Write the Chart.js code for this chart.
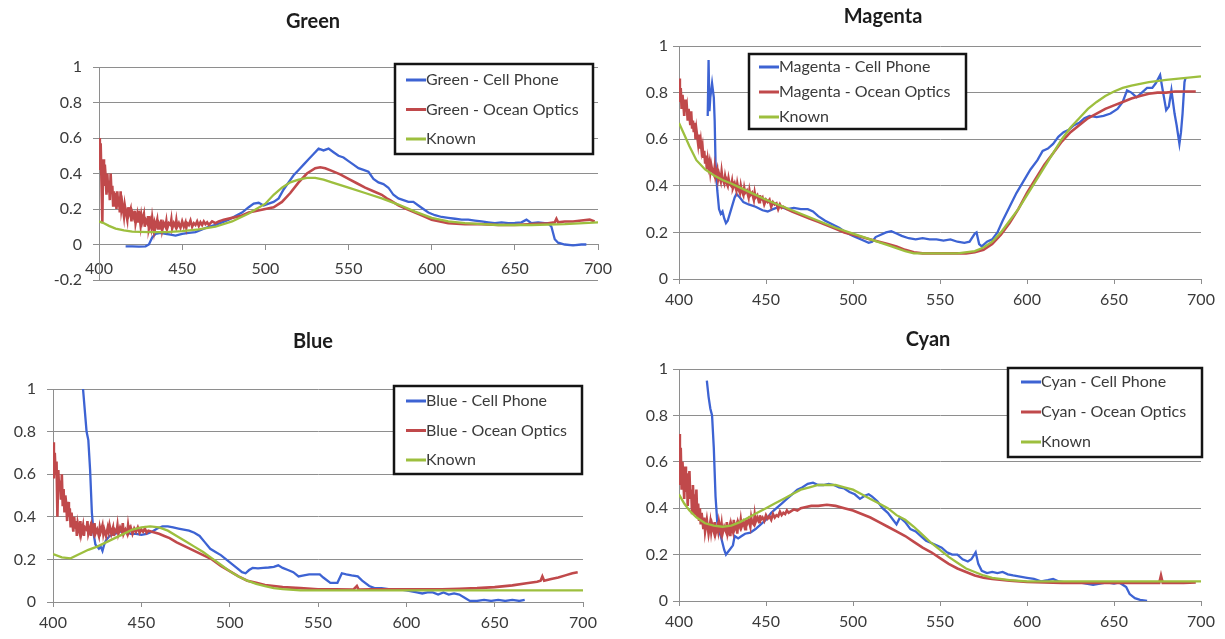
<!DOCTYPE html>
<html>
<head>
<meta charset="utf-8">
<title>Spectra</title>
<script src="https://cdn.jsdelivr.net/npm/chart.js@4.4.1/dist/chart.umd.min.js"></script>
<style>
	html, body { margin: 0; padding: 0; background: #fff; }
	#page { position: relative; width: 1225px; height: 639px; overflow: hidden; }
	#page canvas { position: absolute; left: 0; top: 0; }
</style>
</head>
<body>
<div id="page">
	<canvas id="green" width="1225" height="639"></canvas>
	<canvas id="magenta" width="1225" height="639"></canvas>
	<canvas id="blue" width="1225" height="639"></canvas>
	<canvas id="cyan" width="1225" height="639"></canvas>
</div>
<script>
// wavelength (nm) / relative transmission pairs

var xTicks = [400, 450, 500, 550, 600, 650, 700];

var greenPhone = [[416,-0.01],[420,-0.01],[424,-0.012],[428,-0.01],[430,0.0],[432,0.04],[434,0.06],[437,0.065],[440,0.06],[443,0.055],[446,0.05],[450,0.06],[454,0.065],[458,0.07],[462,0.085],[466,0.1],[470,0.11],[474,0.125],[478,0.14],[482,0.16],[486,0.18],[490,0.21],[493,0.23],[496,0.235],[499,0.22],[502,0.23],[505,0.24],[508,0.26],[511,0.31],[514,0.35],[517,0.39],[520,0.42],[523,0.45],[526,0.48],[529,0.51],[532,0.54],[535,0.53],[538,0.54],[541,0.52],[544,0.5],[547,0.49],[550,0.47],[553,0.45],[556,0.43],[559,0.42],[562,0.41],[565,0.37],[568,0.35],[571,0.34],[574,0.32],[577,0.28],[580,0.26],[583,0.25],[586,0.24],[589,0.24],[592,0.22],[595,0.2],[598,0.18],[602,0.165],[606,0.155],[610,0.15],[614,0.145],[618,0.14],[622,0.14],[626,0.135],[630,0.13],[634,0.125],[638,0.12],[642,0.125],[646,0.12],[650,0.122],[654,0.125],[657,0.14],[660,0.12],[664,0.125],[668,0.12],[670,0.12],[672,0.1],[674,0.03],[676,0.01],[680,0.0],[685,-0.005],[690,0.0],[693,0.0]];

var greenOcean = [[400,0.6],[400.5,0.42],[401,0.57],[401.5,0.35],[402,0.12],[402.5,0.48],[403,0.33],[403.5,0.45],[404,0.38],[404.5,0.28],[405,0.4],[405.5,0.3],[406,0.36],[406.5,0.25],[407,0.4],[407.5,0.29],[408,0.33],[408.5,0.22],[409,0.3],[409.5,0.24],[410,0.29],[410.5,0.2],[411,0.3],[411.5,0.22],[412,0.27],[412.5,0.18],[413,0.3],[413.5,0.2],[414,0.23],[415,0.16],[415.5,0.22],[416,0.19],[417,0.14],[417.5,0.21],[418,0.17],[419,0.2],[419.5,0.13],[420,0.18],[421,0.15],[421.5,0.19],[422,0.12],[423,0.17],[423.5,0.13],[424,0.19],[425,0.11],[425.5,0.16],[426,0.13],[427,0.17],[427.5,0.1],[428,0.14],[429,0.12],[429.5,0.16],[430,0.09],[431,0.13],[431.5,0.1],[432,0.15],[433,0.08],[433.5,0.12],[434,0.1],[435,0.14],[435.5,0.09],[436,0.12],[437,0.1],[437.5,0.14],[438,0.08],[439,0.12],[440,0.1],[440.5,0.13],[441,0.09],[442,0.12],[443,0.11],[443.5,0.14],[444,0.09],[445,0.12],[446,0.1],[446.5,0.135],[447,0.1],[448,0.12],[449,0.095],[450,0.13],[451,0.1],[452,0.125],[452.5,0.095],[453,0.12],[454,0.11],[455,0.135],[456,0.1],[457,0.12],[458,0.11],[459,0.13],[460,0.105],[461,0.125],[462,0.11],[463,0.13],[464,0.115],[465,0.125],[466,0.11],[468,0.13],[470,0.12],[472,0.13],[475,0.14],[480,0.15],[485,0.16],[490,0.18],[495,0.19],[500,0.2],[505,0.21],[510,0.24],[515,0.29],[520,0.35],[525,0.4],[530,0.43],[533,0.435],[536,0.43],[540,0.415],[545,0.395],[550,0.37],[555,0.345],[560,0.32],[565,0.3],[570,0.28],[573,0.26],[575,0.25],[580,0.22],[585,0.2],[590,0.18],[595,0.16],[600,0.14],[605,0.13],[610,0.12],[620,0.115],[630,0.115],[640,0.11],[650,0.11],[660,0.115],[670,0.12],[674,0.125],[675,0.145],[676,0.125],[680,0.13],[685,0.13],[690,0.135],[695,0.14],[698,0.13]];

var greenKnown = [[400,0.13],[403,0.12],[406,0.105],[410,0.09],[415,0.08],[420,0.072],[430,0.07],[440,0.07],[450,0.075],[460,0.085],[470,0.1],[480,0.13],[490,0.175],[500,0.23],[505,0.28],[510,0.32],[515,0.35],[520,0.365],[525,0.375],[530,0.375],[535,0.365],[540,0.35],[550,0.32],[560,0.29],[570,0.26],[580,0.225],[590,0.185],[600,0.15],[610,0.13],[620,0.12],[630,0.115],[640,0.11],[660,0.11],[680,0.115],[700,0.125]];

var magentaPhone = [[416.5,0.7],[417,0.94],[417.5,0.72],[418,0.78],[419,0.84],[420,0.78],[420.5,0.68],[421,0.5],[422,0.38],[423,0.3],[424,0.28],[425,0.29],[426,0.26],[427,0.24],[428,0.25],[430,0.3],[432,0.35],[433,0.365],[435,0.35],[437,0.33],[440,0.32],[444,0.31],[448,0.295],[451,0.29],[454,0.3],[458,0.31],[462,0.3],[466,0.305],[470,0.3],[474,0.3],[477,0.29],[480,0.27],[484,0.25],[488,0.235],[492,0.22],[496,0.2],[500,0.185],[503,0.175],[506,0.165],[509,0.155],[511,0.16],[513,0.18],[516,0.19],[519,0.2],[522,0.205],[525,0.195],[528,0.185],[532,0.175],[536,0.17],[540,0.175],[544,0.17],[548,0.17],[552,0.165],[556,0.17],[560,0.16],[564,0.155],[567,0.16],[570,0.195],[571,0.2],[572.5,0.15],[574,0.14],[577,0.16],[580,0.17],[583,0.2],[586,0.25],[590,0.31],[594,0.37],[598,0.42],[602,0.47],[606,0.51],[609,0.55],[612,0.56],[615,0.58],[618,0.61],[621,0.63],[624,0.64],[627,0.66],[630,0.67],[633,0.69],[636,0.7],[640,0.695],[644,0.7],[648,0.71],[652,0.73],[655,0.76],[657.5,0.81],[660,0.8],[663,0.78],[666,0.8],[669,0.82],[672,0.82],[674,0.84],[676.5,0.875],[678,0.81],[680,0.725],[681.5,0.74],[683,0.81],[684.8,0.71],[686,0.66],[687.6,0.58],[688.5,0.63],[689.4,0.71],[690.5,0.845],[691,0.86]];

var magentaOcean = [[400,0.86],[400.5,0.76],[401,0.82],[401.5,0.73],[402,0.79],[402.5,0.75],[403,0.7],[403.5,0.77],[404,0.72],[404.5,0.74],[405,0.68],[405.5,0.73],[406,0.7],[406.5,0.66],[407,0.72],[407.5,0.65],[408,0.68],[408.5,0.63],[409,0.67],[409.5,0.6],[410,0.64],[410.5,0.61],[411,0.58],[411.5,0.62],[412,0.56],[412.5,0.59],[413,0.55],[413.5,0.57],[414,0.52],[414.5,0.55],[415,0.5],[415.5,0.53],[416,0.47],[416.5,0.51],[417,0.48],[417.5,0.5],[418,0.46],[418.5,0.49],[419,0.47],[420,0.45],[420.5,0.48],[421,0.44],[422,0.47],[422.5,0.43],[423,0.45],[424,0.42],[424.5,0.46],[425,0.43],[426,0.41],[426.5,0.44],[427,0.42],[428,0.4],[428.5,0.43],[429,0.41],[430,0.4],[430.5,0.42],[431,0.39],[432,0.41],[433,0.38],[433.5,0.41],[434,0.39],[435,0.37],[435.5,0.4],[436,0.38],[437,0.36],[437.5,0.39],[438,0.37],[439,0.38],[440,0.35],[440.5,0.38],[441,0.36],[442,0.37],[443,0.34],[443.5,0.37],[444,0.35],[445,0.36],[446,0.33],[446.5,0.36],[447,0.34],[448,0.35],[449,0.32],[450,0.34],[451,0.33],[452,0.34],[453,0.31],[454,0.33],[455,0.32],[456,0.325],[457,0.3],[458,0.32],[459,0.305],[460,0.31],[462,0.3],[465,0.29],[470,0.275],[475,0.26],[480,0.245],[485,0.23],[490,0.215],[495,0.2],[500,0.19],[505,0.18],[510,0.17],[515,0.16],[520,0.15],[525,0.14],[530,0.125],[535,0.115],[540,0.11],[550,0.11],[560,0.11],[565,0.11],[570,0.115],[575,0.125],[580,0.15],[585,0.19],[590,0.24],[595,0.3],[600,0.37],[605,0.43],[610,0.49],[615,0.54],[620,0.59],[625,0.63],[630,0.66],[635,0.69],[640,0.71],[645,0.73],[650,0.745],[655,0.76],[660,0.775],[665,0.785],[670,0.795],[675,0.8],[680,0.8],[685,0.805],[690,0.805],[697,0.805]];

var magentaKnown = [[400,0.67],[403,0.62],[406,0.57],[410,0.51],[415,0.47],[420,0.445],[425,0.425],[430,0.41],[440,0.375],[450,0.34],[460,0.31],[470,0.28],[480,0.25],[490,0.22],[500,0.195],[510,0.17],[520,0.145],[530,0.12],[535,0.11],[540,0.11],[550,0.11],[560,0.11],[570,0.12],[575,0.135],[580,0.16],[585,0.2],[590,0.25],[595,0.3],[600,0.36],[605,0.42],[610,0.48],[615,0.54],[620,0.6],[625,0.65],[630,0.69],[635,0.73],[640,0.76],[645,0.785],[650,0.805],[655,0.82],[660,0.83],[670,0.845],[680,0.855],[690,0.862],[700,0.87]];

var bluePhone = [[416.7,1.02],[417,1.0],[418,0.9],[419,0.8],[420,0.76],[421,0.62],[422,0.42],[423,0.32],[424,0.27],[425,0.26],[426,0.25],[427,0.26],[428,0.24],[429,0.27],[430,0.29],[432,0.31],[435,0.32],[438,0.33],[441,0.33],[444,0.32],[447,0.32],[450,0.315],[453,0.32],[456,0.33],[459,0.345],[462,0.355],[465,0.355],[468,0.35],[471,0.345],[474,0.34],[477,0.335],[480,0.325],[483,0.31],[486,0.28],[489,0.25],[492,0.235],[495,0.22],[498,0.2],[501,0.18],[504,0.16],[507,0.14],[509,0.135],[511,0.15],[513,0.16],[516,0.158],[519,0.16],[522,0.162],[525,0.165],[527.5,0.172],[530,0.16],[533,0.15],[536,0.14],[539,0.12],[542,0.125],[545,0.13],[548,0.13],[551,0.13],[553,0.115],[557,0.09],[561,0.09],[563.5,0.135],[566,0.13],[569,0.125],[572.5,0.12],[575,0.1],[579,0.075],[582,0.065],[586,0.065],[590,0.06],[595,0.06],[600,0.055],[603,0.05],[606,0.045],[609,0.04],[612,0.045],[615,0.045],[618,0.035],[621,0.045],[624,0.035],[627,0.04],[630,0.035],[633,0.02],[636,0.005],[640,0.005],[644,0.01],[648,0.005],[652,0.01],[656,0.005],[660,0.01],[664,0.005],[667,0.01]];

var blueOcean = [[400,0.75],[400.5,0.58],[401,0.7],[401.5,0.6],[402,0.66],[402.5,0.4],[403,0.62],[403.5,0.52],[404,0.57],[404.5,0.48],[405,0.6],[405.5,0.45],[406,0.53],[406.5,0.42],[407,0.5],[407.5,0.46],[408,0.38],[408.5,0.47],[409,0.4],[409.5,0.44],[410,0.35],[410.5,0.42],[411,0.37],[411.5,0.33],[412,0.4],[412.5,0.35],[413,0.38],[413.5,0.31],[414,0.37],[415,0.33],[415.5,0.38],[416,0.32],[417,0.36],[417.5,0.31],[418,0.35],[419,0.34],[419.5,0.38],[420,0.32],[421,0.35],[421.5,0.31],[422,0.36],[423,0.33],[423.5,0.37],[424,0.32],[425,0.34],[426,0.31],[426.5,0.35],[427,0.33],[428,0.36],[428.5,0.32],[429,0.34],[430,0.31],[431,0.35],[431.5,0.33],[432,0.36],[433,0.32],[434,0.35],[434.5,0.31],[435,0.34],[436,0.33],[436.5,0.36],[437,0.32],[438,0.35],[439,0.33],[439.5,0.37],[440,0.32],[441,0.34],[442,0.32],[442.5,0.36],[443,0.33],[444,0.35],[445,0.32],[446,0.345],[447,0.33],[448,0.35],[449,0.325],[450,0.34],[451,0.33],[452,0.345],[453,0.325],[454,0.335],[456,0.33],[458,0.325],[460,0.32],[463,0.31],[466,0.3],[470,0.28],[475,0.26],[480,0.24],[485,0.22],[490,0.2],[495,0.17],[500,0.145],[505,0.12],[510,0.1],[515,0.09],[520,0.08],[525,0.075],[530,0.07],[540,0.065],[550,0.06],[560,0.06],[570,0.058],[572,0.075],[573,0.058],[580,0.06],[590,0.06],[600,0.06],[610,0.06],[620,0.06],[630,0.062],[640,0.065],[650,0.07],[660,0.078],[668,0.088],[674,0.095],[676,0.1],[677,0.12],[678,0.1],[682,0.108],[686,0.115],[690,0.125],[694,0.135],[697,0.14]];

var blueKnown = [[400,0.225],[405,0.21],[410,0.205],[415,0.225],[420,0.245],[425,0.26],[430,0.28],[435,0.3],[440,0.32],[445,0.34],[450,0.35],[455,0.355],[460,0.35],[465,0.335],[470,0.31],[475,0.285],[480,0.26],[485,0.235],[490,0.205],[495,0.175],[500,0.145],[505,0.12],[510,0.1],[515,0.085],[520,0.075],[525,0.065],[530,0.06],[540,0.055],[560,0.055],[600,0.055],[650,0.055],[700,0.055]];

var cyanPhone = [[416,0.95],[417,0.88],[418,0.83],[419,0.8],[420,0.66],[421,0.45],[422,0.34],[423,0.3],[424,0.28],[425,0.25],[426,0.22],[427,0.2],[428,0.21],[429,0.22],[431,0.24],[432,0.28],[434,0.27],[436,0.28],[438,0.29],[441,0.295],[444,0.31],[447,0.33],[450,0.35],[453,0.38],[456,0.4],[459,0.42],[462,0.44],[465,0.46],[468,0.48],[471,0.49],[474,0.505],[477,0.51],[480,0.5],[483,0.5],[486,0.505],[489,0.5],[492,0.49],[495,0.485],[498,0.47],[501,0.46],[504,0.44],[507,0.455],[509,0.46],[511,0.45],[514,0.43],[517,0.4],[520,0.38],[523,0.35],[525,0.33],[527,0.36],[530,0.34],[533,0.31],[536,0.3],[539,0.28],[542,0.26],[545,0.25],[548,0.24],[551,0.23],[554,0.21],[557,0.2],[560,0.2],[563,0.18],[566,0.17],[568,0.18],[570.5,0.21],[572,0.16],[574,0.13],[577,0.12],[580,0.125],[583,0.12],[586,0.125],[589,0.115],[592,0.11],[596,0.105],[600,0.1],[604,0.095],[608,0.085],[612,0.09],[615,0.095],[618,0.085],[622,0.08],[626,0.08],[630,0.08],[634,0.075],[638,0.07],[642,0.075],[646,0.08],[650,0.075],[653,0.08],[655,0.07],[657,0.06],[659,0.03],[662,0.012],[665,0.005],[669,0.0]];

var cyanOcean = [[400,0.72],[400.5,0.5],[401,0.66],[401.5,0.48],[402,0.6],[402.5,0.52],[403,0.44],[403.5,0.58],[404,0.47],[404.5,0.55],[405,0.41],[405.5,0.5],[406,0.56],[406.5,0.44],[407,0.48],[407.5,0.38],[408,0.5],[408.5,0.42],[409,0.46],[409.5,0.37],[410,0.48],[410.5,0.36],[411,0.42],[411.5,0.35],[412,0.4],[412.5,0.33],[413,0.38],[414,0.31],[414.5,0.36],[415,0.3],[416,0.35],[416.5,0.32],[417,0.29],[418,0.34],[418.5,0.3],[419,0.33],[420,0.3],[420.5,0.34],[421,0.29],[422,0.32],[422.5,0.3],[423,0.34],[424,0.3],[424.5,0.33],[425,0.29],[426,0.32],[427,0.3],[427.5,0.34],[428,0.29],[429,0.32],[429.5,0.28],[430,0.33],[431,0.3],[431.5,0.35],[432,0.31],[433,0.33],[433.5,0.29],[434,0.34],[435,0.32],[435.5,0.35],[436,0.32],[437,0.34],[438,0.31],[438.5,0.35],[439,0.33],[440,0.35],[441,0.32],[441.5,0.36],[442,0.34],[443,0.33],[443.5,0.37],[444,0.34],[445,0.36],[446,0.34],[446.5,0.37],[447,0.35],[448,0.36],[449,0.345],[450,0.37],[451,0.355],[452,0.365],[453,0.35],[454,0.375],[455,0.36],[456,0.37],[457,0.365],[458,0.385],[459,0.37],[460,0.38],[461,0.375],[462,0.39],[463,0.38],[464,0.385],[466,0.395],[468,0.39],[470,0.4],[473,0.405],[476,0.41],[480,0.41],[485,0.415],[490,0.41],[495,0.4],[500,0.39],[505,0.375],[510,0.36],[515,0.34],[520,0.32],[525,0.3],[530,0.28],[535,0.255],[540,0.23],[545,0.21],[550,0.185],[555,0.16],[560,0.14],[565,0.125],[570,0.11],[575,0.1],[580,0.095],[590,0.088],[600,0.082],[610,0.08],[620,0.078],[640,0.078],[660,0.078],[676,0.078],[677,0.11],[678,0.078],[690,0.078],[697,0.08]];

var cyanKnown = [[400,0.46],[403,0.42],[406,0.39],[410,0.36],[415,0.335],[420,0.325],[425,0.32],[430,0.325],[435,0.34],[440,0.36],[445,0.38],[450,0.4],[455,0.42],[460,0.44],[465,0.46],[470,0.48],[475,0.49],[480,0.5],[485,0.5],[490,0.5],[495,0.49],[500,0.48],[505,0.46],[510,0.44],[515,0.42],[520,0.4],[525,0.37],[530,0.35],[535,0.32],[540,0.285],[545,0.25],[550,0.22],[555,0.19],[560,0.165],[565,0.14],[570,0.125],[575,0.11],[580,0.1],[590,0.09],[600,0.085],[650,0.085],[700,0.085]];

var PHONE = '#3d63d3',
	OCEAN = '#c0494b',
	KNOWN = '#9dbf3e',
	GRID = '#8e8e8e',
	LABEL = '#3a3a3a';

Chart.defaults.font.family = 'Lato';
Chart.defaults.font.size = 16;
Chart.defaults.color = LABEL;

// title and boxed legend, placed by page coordinates since every canvas covers the whole page
var panelDecor = {
	id: 'panelDecor',
	afterDraw: function (chart, args, o) {
		var c = chart.ctx;
		c.save();

		c.font = 'bold 20px Lato';
		c.fillStyle = '#1c1c1c';
		c.textAlign = 'center';
		c.textBaseline = 'middle';
		c.fillText(o.title.text, o.title.x, o.title.y);

		var L = o.legend;
		c.fillStyle = '#fff';
		c.fillRect(L.x, L.y, L.w, L.h);
		c.lineWidth = 2.5;
		c.strokeStyle = '#141414';
		c.strokeRect(L.x, L.y, L.w, L.h);
		c.font = '16px Lato';
		c.textAlign = 'left';
		chart.data.datasets.forEach(function (ds, i) {
			var y = L.y + L.first + i * L.gap;
			c.strokeStyle = ds.borderColor;
			c.lineWidth = 3;
			c.beginPath();
			c.moveTo(L.x + L.inset, y);
			c.lineTo(L.x + L.inset + 20, y);
			c.stroke();
			c.fillStyle = LABEL;
			c.fillText(ds.label, L.x + L.inset + 20, y);
		});
		c.restore();
	}
};

function points(pairs) {
	return pairs.map(function (p) {
		return {x: p[0], y: p[1]};
	});
}

function series(label, pairs, color, order, width) {
	return {
		label: label,
		data: points(pairs),
		borderColor: color,
		backgroundColor: color,
		borderWidth: width,
		pointRadius: 0,
		tension: 0,
		order: order
	};
}

function spectrumChart(id, p) {
	return new Chart(document.getElementById(id), {
		type: 'line',
		data: {
			datasets: [
				series(p.name + ' - Cell Phone', p.phone, PHONE, 2, 2.3),
				series(p.name + ' - Ocean Optics', p.ocean, OCEAN, 1, 2.6),
				series('Known', p.known, KNOWN, 0, 2.3)
			]
		},
		options: {
			responsive: false,
			animation: false,
			events: [],
			devicePixelRatio: 1,
			layout: {padding: p.pad},
			plugins: {
				legend: {display: false},
				tooltip: {enabled: false},
				title: {display: false},
				panelDecor: {title: {text: p.name, x: p.titleAt[0], y: p.titleAt[1]}, legend: p.legend}
			},
			scales: {
				x: {
					type: 'linear',
					position: p.xAt,
					min: 400,
					max: 700,
					afterBuildTicks: function (s) {
						s.ticks = xTicks.map(function (v) { return {value: v}; });
					},
					afterFit: function (s) { s.height = 32; },
					ticks: {maxRotation: 0, autoSkip: false, padding: p.xPad, color: LABEL},
					grid: {drawOnChartArea: false, drawTicks: true, tickLength: 5, color: GRID, lineWidth: 1},
					border: {color: GRID, width: 1}
				},
				y: {
					min: p.yMin,
					max: 1,
					afterFit: function (s) { s.width = p.yWidth; },
					ticks: {
						stepSize: 0.2,
						padding: p.yPad,
						color: LABEL,
						callback: function (v) { return String(Math.round(v * 10) / 10); }
					},
					grid: {color: GRID, lineWidth: 1, tickLength: 6},
					border: {color: GRID, width: 1}
				}
			}
		},
		plugins: [panelDecor]
	});
}

spectrumChart('green', {
	name: 'Green', phone: greenPhone, ocean: greenOcean, known: greenKnown,
	yMin: -0.2, xAt: {y: 0}, yWidth: 99, xPad: 10, yPad: 11,
	pad: {left: 0, right: 627, top: 67, bottom: 359},
	titleAt: [313, 22],
	legend: {x: 395, y: 64, w: 198, h: 90, first: 16, gap: 29.5, inset: 11}
});

spectrumChart('magenta', {
	name: 'Magenta', phone: magentaPhone, ocean: magentaOcean, known: magentaKnown,
	yMin: 0, xAt: 'bottom', yWidth: 679, xPad: 6, yPad: 5,
	pad: {left: 0, right: 24, top: 46, bottom: 328},
	titleAt: [883, 17],
	legend: {x: 749, y: 54, w: 217, h: 75, first: 13, gap: 25, inset: 10}
});

spectrumChart('blue', {
	name: 'Blue', phone: bluePhone, ocean: blueOcean, known: blueKnown,
	yMin: 0, xAt: 'bottom', yWidth: 53, xPad: 6, yPad: 11,
	pad: {left: 0, right: 642, top: 389, bottom: 5},
	titleAt: [313, 342],
	legend: {x: 394, y: 386, w: 188, h: 88, first: 15, gap: 29.5, inset: 12}
});

spectrumChart('cyan', {
	name: 'Cyan', phone: cyanPhone, ocean: cyanOcean, known: cyanKnown,
	yMin: 0, xAt: 'bottom', yWidth: 679, xPad: 6, yPad: 5,
	pad: {left: 0, right: 24, top: 369, bottom: 6},
	titleAt: [928, 340],
	legend: {x: 1008, y: 368, w: 194, h: 89, first: 14, gap: 30, inset: 13}
});
</script>
</body>
</html>
